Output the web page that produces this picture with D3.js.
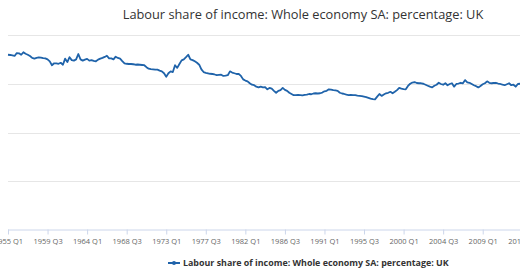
<!DOCTYPE html>
<html>
<head>
<meta charset="utf-8">
<script src="https://cdnjs.cloudflare.com/ajax/libs/d3/7.8.5/d3.min.js"></script>
<style>
  body { margin: 0; background: #fff; }
  svg { display: block; font-family: "Open Sans", sans-serif; }
</style>
</head>
<body>
<svg id="chart"></svg>
<script>
// quarterly values, starting 1955 Q1
var startYear = 1955;
var values = [
  71.9, 71.8, 71.6, 71.4,  72.6, 72.5, 71.9, 72.9,  72.3, 71.9, 71.4, 70.6,
  70.3, 70.6, 70.8, 70.7,  70.5, 70.4, 70.0, 69.2,  67.6, 68.4, 68.4, 68.2,
  68.6, 67.8, 70.3, 68.9,  70.9, 69.7, 69.5, 70.0,  72.2, 70.0, 69.5, 69.9,
  70.2, 69.5, 69.7, 69.4,  69.2, 69.9, 70.3, 70.6,  71.0, 71.5, 70.4, 70.4,
  70.0, 71.1, 70.6, 70.3,  69.3, 68.4, 68.2, 68.1,  68.1, 68.0, 67.8, 67.9,
  67.8, 67.7, 67.6, 66.8,  66.2, 66.0, 65.9, 65.8,  65.8, 65.4, 65.1, 64.3,
  62.9, 64.3, 65.1, 64.8,  67.6, 66.5, 68.1, 69.6,  70.0, 70.9, 71.9, 70.0,
  69.7, 69.2, 68.6, 67.8,  65.9, 64.8, 64.5, 64.3,  64.1, 64.0, 63.8, 63.5,
  63.6, 63.7, 63.2, 63.3,  63.5, 65.1, 64.6, 64.3,  64.0, 64.0, 63.2, 61.8,
  61.3, 61.0, 60.2, 59.6,  59.4, 58.8, 58.5, 58.8,  58.5, 58.6, 57.7, 58.3,
  58.0, 57.1, 56.3, 57.1,  57.4, 58.3, 57.5, 57.1,  56.3, 55.8, 55.3, 55.3,
  55.4, 55.3, 55.2, 55.4,  55.5, 55.8, 55.7, 56.0,  56.1, 56.0, 56.1, 56.4,
  56.9, 57.1, 57.7, 57.6,  57.4, 57.3, 57.1, 56.3,  56.0, 55.8, 55.5, 55.3,
  55.4, 55.3, 55.3, 55.1,  55.0, 54.9, 54.7, 54.5,  54.2, 53.9, 53.7, 53.6,
  54.7, 55.8, 55.0, 55.6,  56.1, 56.3, 56.7, 56.1,  56.7, 57.4, 58.3, 58.0,
  57.8, 57.7, 59.1, 60.0,  60.5, 60.7, 60.3, 60.2,  60.2, 60.0, 59.6, 59.2,
  58.8, 58.5, 59.2, 59.6,  60.4, 59.9, 59.6, 60.2,  59.4, 59.9, 60.2, 58.8,
  59.9, 60.1, 60.4, 60.2,  61.5, 60.6, 60.4, 59.9,  59.4, 59.0, 58.5, 59.1,
  59.8, 60.2, 61.0, 60.4,  60.2, 60.3, 60.4, 60.1,  59.9, 59.6, 59.4, 59.8,
  60.2, 59.4, 59.6, 58.8,  59.9, 60.0
];
var tickLabels = ["1955 Q1", "1959 Q3", "1964 Q1", "1968 Q3", "1973 Q1", "1977 Q3", "1982 Q1",
                  "1986 Q3", "1991 Q1", "1995 Q3", "2000 Q1", "2004 Q3", "2009 Q1", "2013 Q3"];
var yTicks = [0, 20, 40, 60, 80];
var title = "Labour share of income: Whole economy SA: percentage: UK";

var w = 520, h = 272;
var margin = {top: 35, bottom: 42, left: 8};
var color = "#1f63aa";

var svg = d3.select("#chart").attr("width", w).attr("height", h);

var tickStep = 18; // quarters between labels
var lastIndex = (tickLabels.length - 1) * tickStep;

var x = d3.scaleLinear()
  .domain([0, lastIndex])
  .range([margin.left, margin.left + lastIndex * 2.1977]);

var y = d3.scaleLinear()
  .domain([0, 80])
  .range([h - margin.bottom, margin.top]);

// gridlines (y labels are cropped off in the original)
svg.append("g")
  .selectAll("line")
  .data(yTicks.slice(1))
  .enter()
  .append("line")
  .attr("x1", margin.left)
  .attr("x2", x(lastIndex) + 40)
  .attr("y1", function(d) { return Math.round(y(d)) + 0.5; })
  .attr("y2", function(d) { return Math.round(y(d)) + 0.5; })
  .attr("stroke", "#e6e6e6")
  .attr("stroke-width", 1);

// x axis
var xAxis = d3.axisBottom(x)
  .tickValues(d3.range(0, lastIndex + 1, tickStep))
  .tickFormat(function(d) { return tickLabels[d / tickStep]; })
  .tickSize(5)
  .tickSizeOuter(0);

var gx = svg.append("g")
  .attr("transform", "translate(0," + (Math.round(y(0)) - 0.5) + ")")
  .call(xAxis);
gx.attr("font-family", "Open Sans, sans-serif").attr("font-size", 7.5);
gx.select(".domain").attr("stroke", "#ccd6eb").attr("d", "M" + margin.left + ",0.5H" + (w + 40));
gx.selectAll(".tick line").attr("stroke", "#ccd6eb");
gx.selectAll(".tick text")
  .attr("fill", "#666")
  .attr("y", 8)
  .attr("dy", "0.8em");

// series
var line = d3.line()
  .x(function(d, i) { return x(i); })
  .y(function(d) { return y(d); });

svg.append("path")
  .datum(values)
  .attr("fill", "none")
  .attr("stroke", color)
  .attr("stroke-width", 1.8)
  .attr("stroke-linejoin", "round")
  .attr("d", line);

// title
svg.append("text")
  .attr("x", 303)
  .attr("y", 19)
  .attr("text-anchor", "middle")
  .attr("font-size", 12.8)
  .attr("fill", "#333")
  .text(title);

// legend
var legend = svg.append("g").attr("transform", "translate(168,263)");
legend.append("line")
  .attr("x1", 0).attr("x2", 12)
  .attr("stroke", color).attr("stroke-width", 2);
legend.append("circle")
  .attr("cx", 6).attr("r", 2)
  .attr("fill", color);
legend.append("text")
  .attr("x", 15)
  .attr("y", 3)
  .attr("font-size", 8.9)
  .attr("font-weight", "bold")
  .attr("fill", "#333")
  .text(title);
</script>
</body>
</html>
